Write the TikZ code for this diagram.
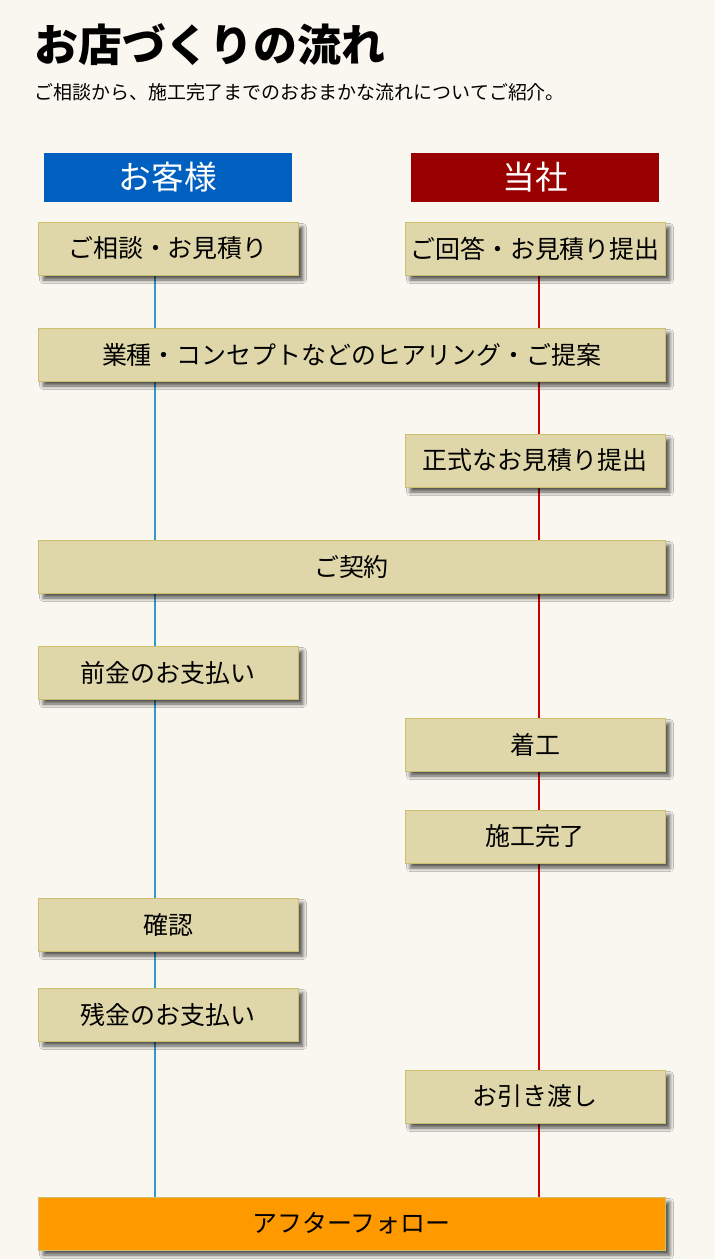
\documentclass[tikz,border=0pt]{standalone}
\usepackage{fontspec}
\setmainfont{Noto Sans CJK JP}
\newfontfamily\titlefont{Noto Sans CJK JP Black}
\usetikzlibrary{positioning,backgrounds,shadows.blur}
\definecolor{PageBg}{HTML}{F9F7F0}
\definecolor{StepFill}{HTML}{DFD7A9}
\definecolor{StepLine}{HTML}{CCBF6E}
\definecolor{CustBlue}{HTML}{0060C0}
\definecolor{ShopRed}{HTML}{990000}
\definecolor{CustLine}{HTML}{3399CC}
\definecolor{ShopLine}{HTML}{CC0000}
\definecolor{AfterOrange}{HTML}{FF9900}

\tikzset{
  stepbox/.style={draw=StepLine,fill=StepFill,minimum width=5.2cm,minimum height=1.06cm,
    inner sep=0pt,font=\fontsize{14.2}{16}\selectfont,
    blur shadow={shadow xshift=0.1cm,shadow yshift=-0.1cm,shadow blur radius=0.07cm,
      shadow blur steps=8,shadow opacity=65}},
  widebox/.style={stepbox,minimum width=12.54cm},
  headbox/.style={minimum width=4.96cm,minimum height=0.98cm,inner sep=0pt,
    text=white,font=\fontsize{18.6}{20}\selectfont},
}

\begin{document}
\begin{tikzpicture}[x=0.02cm,y=-0.02cm]
\node[anchor=west,font=\fontsize{25}{28}\titlefont] (title) at (28,45) {お店づくりの流れ};
\node[anchor=west,font=\fontsize{10.8}{12}\selectfont] (lead) at (28,92) {ご相談から、施工完了までのおおまかな流れについてご紹介。};
% headers
\node[headbox,fill=CustBlue] (cust) at (168,177.5) {お客様};
\node[headbox,fill=ShopRed] (shop) at (535,177.5) {当社};
% steps
\node[stepbox] (soudan) at (168,248.5) {ご相談・お見積り};
\node[stepbox] (kaitou) at (535,248.5) {ご回答・お見積り提出};
\node[widebox] (hearing) at (351.5,354.5) {業種・コンセプトなどのヒアリング・ご提案};
\node[stepbox] (seishiki) at (535,460.5) {正式なお見積り提出};
\node[widebox] (keiyaku) at (351.5,566.5) {ご契約};
\node[stepbox] (maekin) at (168,672.5) {前金のお支払い};
\node[stepbox] (chakkou) at (535,744.5) {着工};
\node[stepbox] (kanryou) at (535,836.5) {施工完了};
\node[stepbox] (kakunin) at (168,924.5) {確認};
\node[stepbox] (zankin) at (168,1014.5) {残金のお支払い};
\node[stepbox] (hikiwatashi) at (535,1096.5) {お引き渡し};
\node[widebox,fill=AfterOrange] (after) at (351.5,1223.5) {アフターフォロー};
% page and lifelines
\begin{scope}[on background layer]
\fill[PageBg] (0,0) rectangle (715,1259);
\draw[CustLine,line width=0.8pt] ([xshift=-0.26cm]soudan.south) -- ([xshift=-0.26cm]soudan.south |- after.north);
\draw[ShopLine,line width=0.8pt] ([xshift=0.08cm]kaitou.south) -- ([xshift=0.08cm]kaitou.south |- after.north);
\end{scope}
\end{tikzpicture}
\end{document}
